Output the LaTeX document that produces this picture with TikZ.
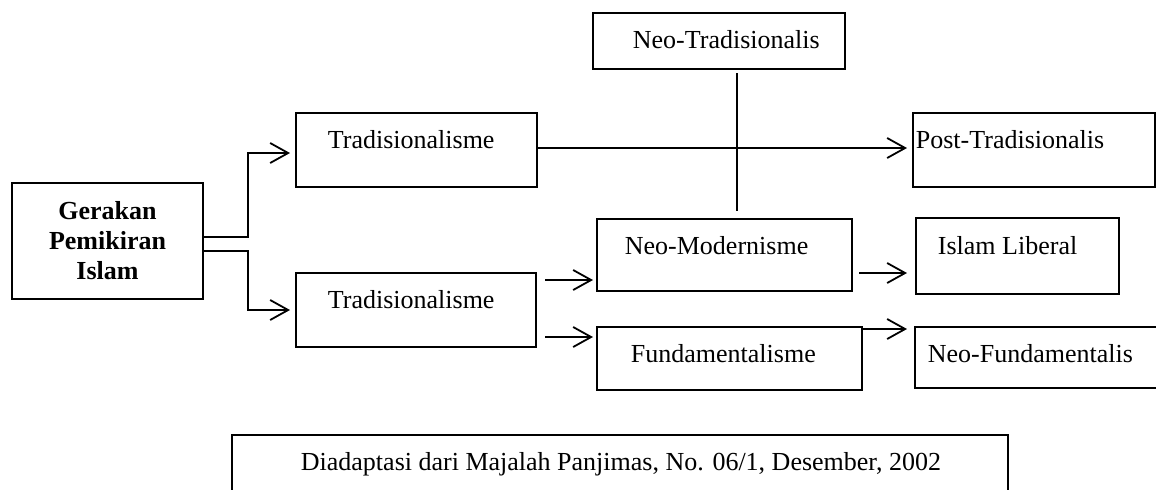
\documentclass[tikz,border=0pt]{standalone}
\usepackage{fontspec}
\setmainfont{Liberation Serif}
\usetikzlibrary{arrows.meta}
\newcommand\mybx[5]{\node[box, minimum width={(#4-#2)*0.5pt}, minimum height={(#5-#3)*0.5pt}] (#1) at ({(#2+#4)/2},{(#3+#5)/2}) {};}
\begin{document}
\begin{tikzpicture}[x=0.5pt,y=-0.5pt,line width=0.9pt,
  box/.style={draw, rectangle, inner sep=0pt, outer sep=0pt, line width=0.9pt},
  lbl/.style={anchor=base west, inner sep=0pt, font=\fontsize{13}{15}\selectfont},
  arr/.style={-{Straight Barb[length=9pt,width=10pt]}}]
\useasboundingbox (0,0) rectangle (1156,489);
\clip (0,0) rectangle (1156,489);
% boxes
\mybx{G}{12}{183}{203}{299}
\node[inner sep=0pt, align=center, font=\fontsize{13}{15}\bfseries\selectfont] (tG) at (G.center) {Gerakan\\Pemikiran\\Islam};
\mybx{T1}{296}{113}{537}{187}
\node[lbl] (tT1) at (327,148) {Tradisionalisme};
\mybx{NT}{593}{13}{845}{69}
\node[lbl] (tNT) at (632,48) {Neo-Tradisionalis};
\mybx{PT}{913}{113}{1155}{187}
\node[lbl] (tPT) at (915,148) {Post-Tradisionalis};
\mybx{T2}{296}{273}{536}{347}
\node[lbl] (tT2) at (327,308) {Tradisionalisme};
\mybx{NM}{597}{219}{852}{291}
\node[lbl] (tNM) at (624,254) {Neo-Modernisme};
\mybx{IL}{916}{218}{1119}{294}
\node[lbl] (tIL) at (937,254) {Islam Liberal};
\mybx{FU}{597}{327}{862}{390}
\node[lbl] (tFU) at (630,362) {Fundamentalisme};
\mybx{NF}{915}{327}{1170}{388}
\node[lbl] (tNF) at (927,362) {Neo-Fundamentalis};
\mybx{SRC}{232}{435}{1008}{530}
\node[lbl] (tSRC) at (300,470) {Diadaptasi dari Majalah Panjimas, No. 06/1, Desember, 2002};
% junctions
\coordinate (j1) at (248,237);
\coordinate (j2) at (248,153);
\coordinate (j3) at (248,251);
\coordinate (j4) at (248,310);
\coordinate (v1) at (737,73);
\coordinate (v2) at (737,211);
\coordinate (a1) at (545,280);
\coordinate (a2) at (545,337);
\coordinate (a3) at (859,273);
% connectors
\draw[arr] (G.east |- j1) -- (j1) -- (j2) -- ([xshift=-3pt]T1.west |- j2);
\draw[arr] (G.east |- j3) -- (j3) -- (j4) -- ([xshift=-3pt]T2.west |- j4);
\draw[arr] ([yshift=1pt]T1.east) -- ([xshift=-3pt,yshift=1pt]PT.west);
\draw (v1) -- (v2);
\draw[arr] (a1) -- ([xshift=-2pt]NM.west |- a1);
\draw[arr] (a2) -- ([xshift=-2pt]FU.west |- a2);
\draw[arr] (a3) -- ([xshift=-4.5pt]IL.west |- a3);
\draw[arr] ([yshift=-1pt]FU.north east) -- ([xshift=-4pt,yshift=-1pt]NF.west |- FU.north east);
\end{tikzpicture}
\end{document}
